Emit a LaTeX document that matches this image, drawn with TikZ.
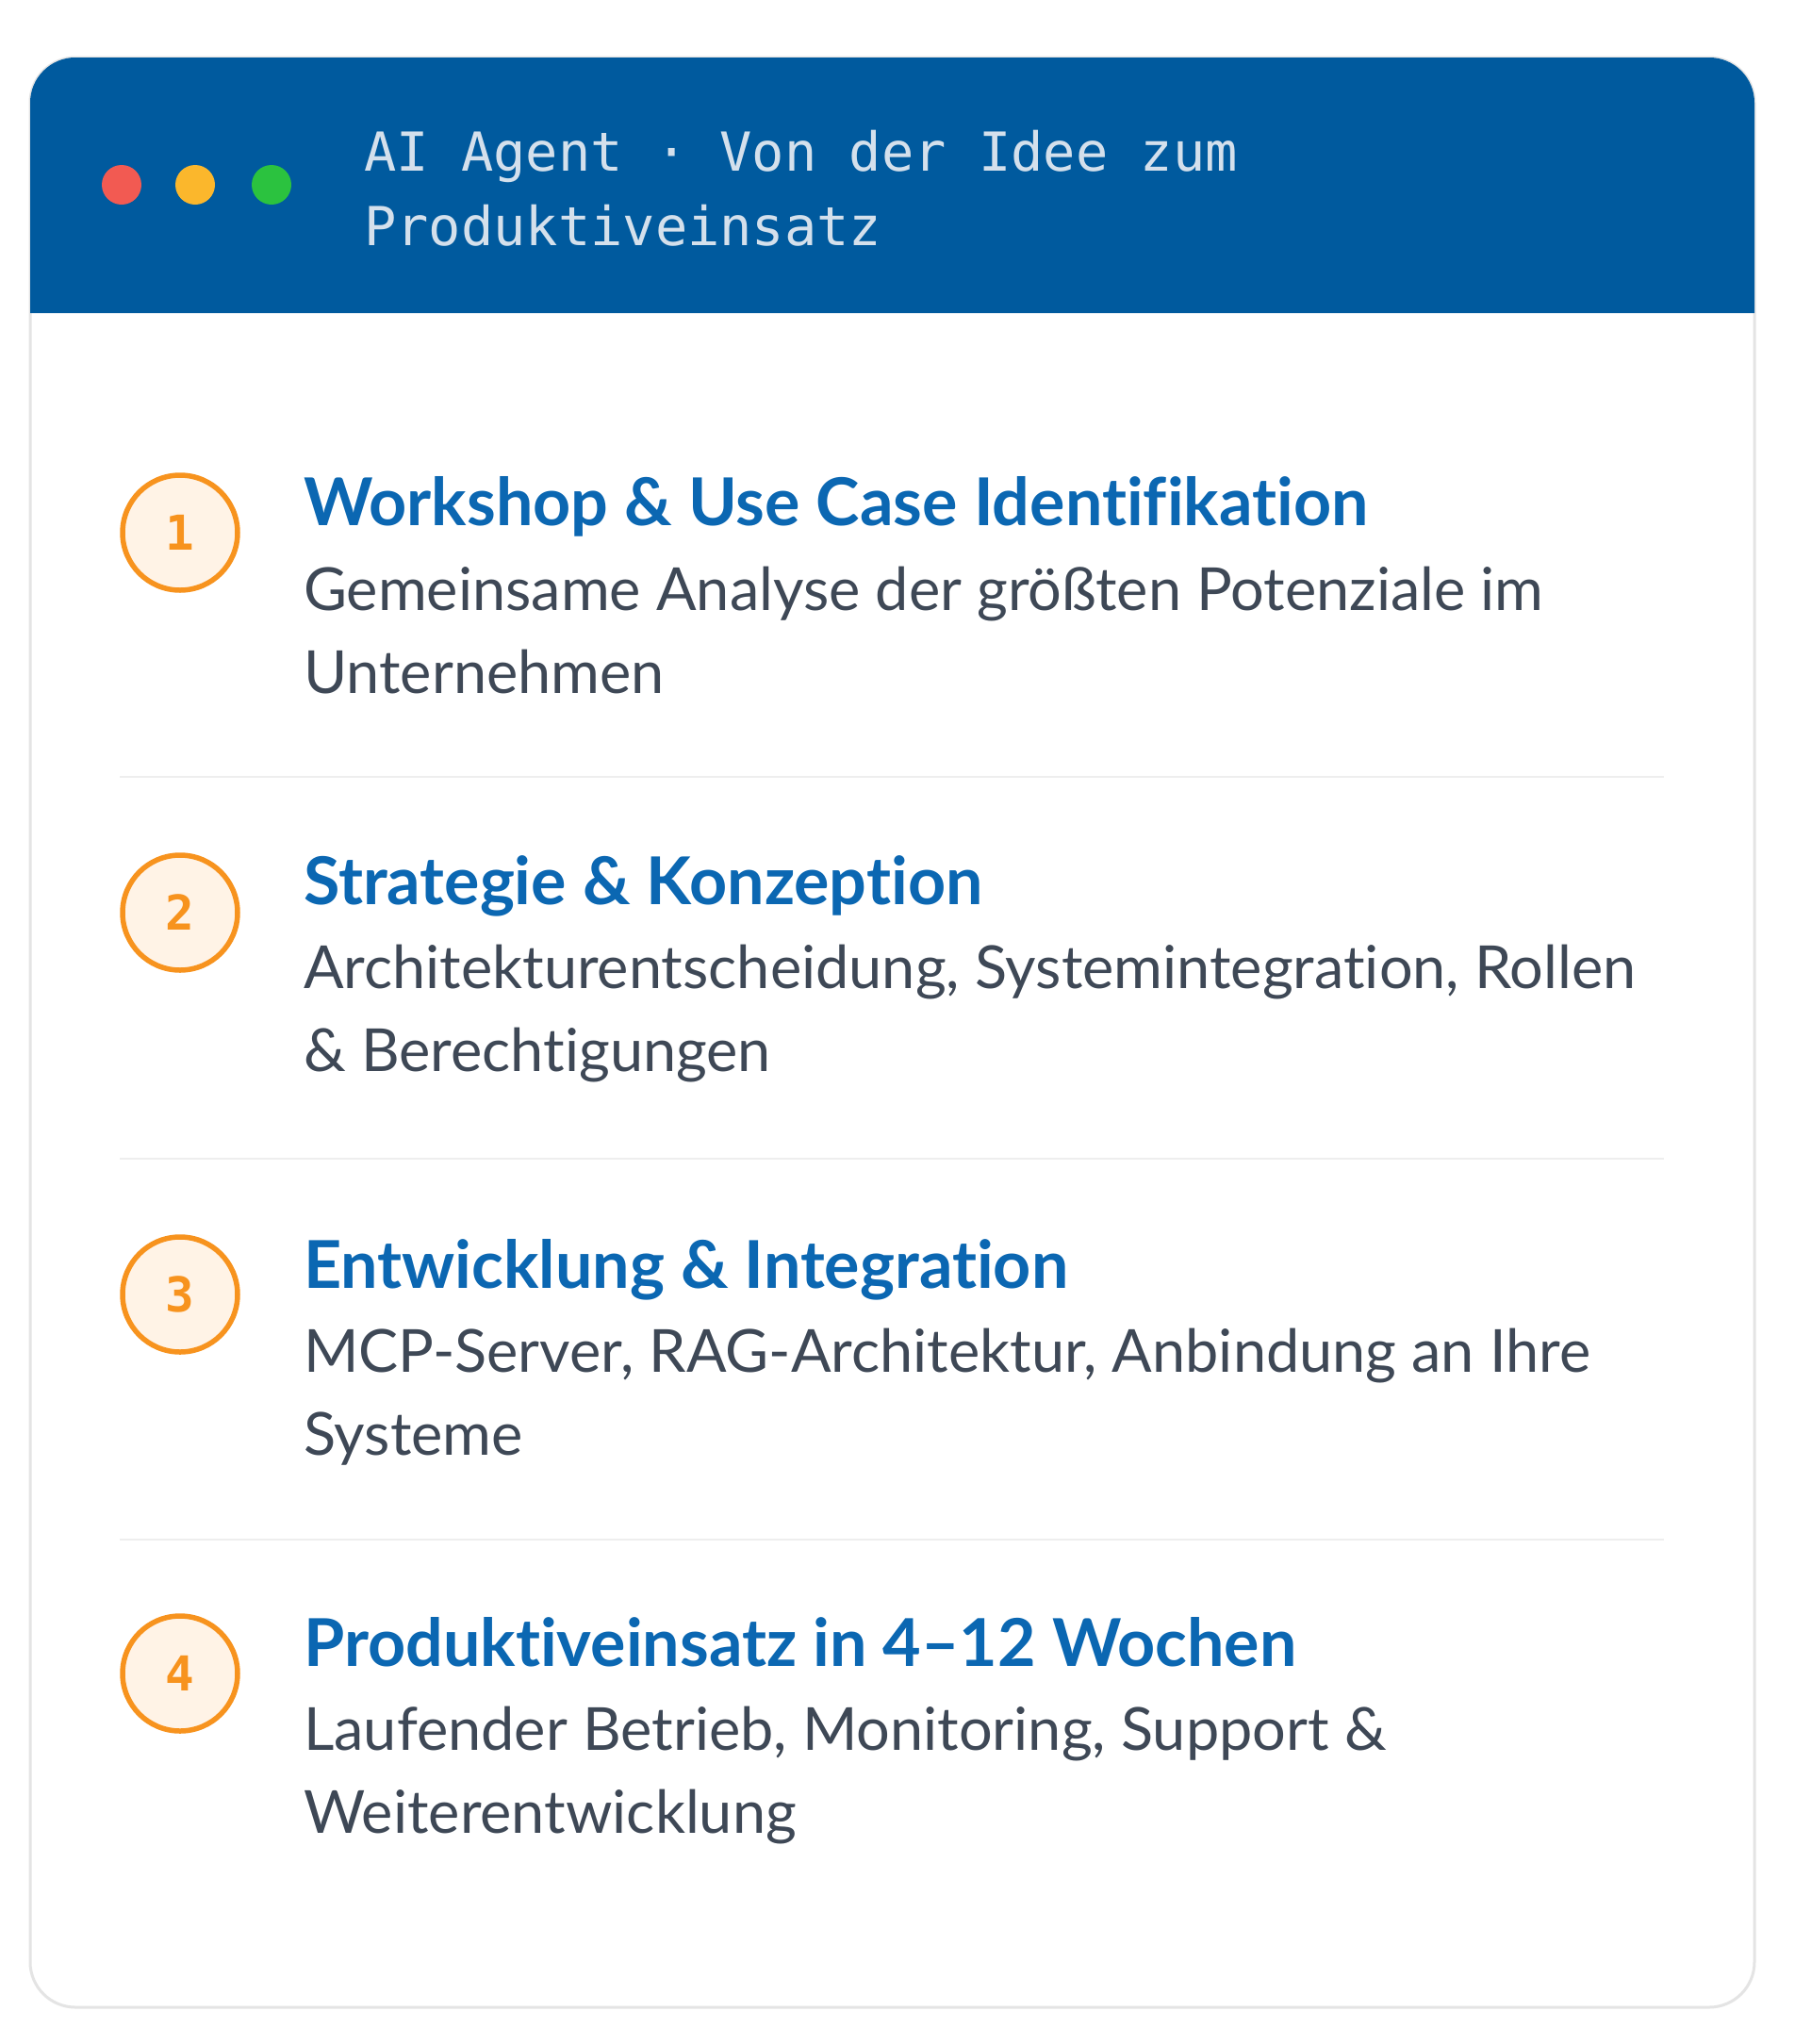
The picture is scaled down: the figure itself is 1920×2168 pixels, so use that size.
\documentclass[tikz,border=0pt]{standalone}
\usepackage{fontspec}
\setmainfont{Lato}[Ligatures=NoCommon]
\newfontfamily\monofont{DejaVu Sans Mono}
\definecolor{headblue}{HTML}{005A9E}
\definecolor{headtext}{HTML}{D4E0EC}
\definecolor{titleblue}{HTML}{0B67B2}
\definecolor{desctext}{HTML}{3E4856}
\definecolor{cardline}{HTML}{E4E4E4}
\definecolor{sepline}{HTML}{EEEEEE}
\definecolor{ringorange}{HTML}{F7931E}
\definecolor{ringfill}{HTML}{FFF3E6}
\definecolor{dotred}{HTML}{F25A52}
\definecolor{dotyellow}{HTML}{FBB72C}
\definecolor{dotgreen}{HTML}{2BC23F}
\tikzset{
  headfont/.style={font=\monofont\fontsize{57}{79}\selectfont, text=headtext, inner sep=0pt, anchor=base west},
  titlefont/.style={font=\fontsize{70}{80}\selectfont\bfseries, text=titleblue, inner sep=0pt, anchor=base west},
  descfont/.style={font=\fontsize{63}{88}\selectfont, text=desctext, inner sep=0pt, anchor=base west},
  ring/.style={circle, draw=ringorange, line width=5.5pt, fill=ringfill, minimum size=122pt, inner sep=0pt,
    font=\monofont\bfseries\fontsize{51}{52}\selectfont, text=ringorange},
  dot/.style={circle, minimum size=42pt, inner sep=0pt},
  sep/.style={draw=sepline, line width=2.5pt}
}
\begin{document}
\begin{tikzpicture}[x=1pt,y=-1pt]
\useasboundingbox (0,0) rectangle (1920,2168);
\fill[white] (0,0) rectangle (1920,2168);
% card
\draw[cardline, line width=3pt, fill=white, rounded corners=48pt] (32,61) rectangle (1861,2129);
\fill[headblue] (32,332) [rounded corners=48pt] -- (32,61) -- (1861,61) [sharp corners] -- (1861,332) -- cycle;
% dots
\node[dot, fill=dotred] (dr) at (129,196) {};
\node[dot, fill=dotyellow] (dy) at (207,196) {};
\node[dot, fill=dotgreen] (dg) at (288,196) {};
% header title
\node[headfont] (h1) at (386,181) {AI Agent · Von der Idee zum};
\node[headfont] (h2) at (386,260) {Produktiveinsatz};
% step 1
\node[ring] (c1) at (191,565) {1};
\node[titlefont] (t1) at (322,557) {Workshop \& Use Case Identifikation};
\node[descfont] (d1a) at (322,647) {Gemeinsame Analyse der größten Potenziale im};
\node[descfont] (d1b) at (322,735) {Unternehmen};
\coordinate (s1l) at (127,824); \coordinate (s1r) at (1765,824);
\draw[sep] (s1l) -- (s1r);
% step 2
\node[ring] (c2) at (191,968) {2};
\node[titlefont] (t2) at (322,959) {Strategie \& Konzeption};
\node[descfont] (d2a) at (322,1048) {Architekturentscheidung, Systemintegration, Rollen};
\node[descfont] (d2b) at (322,1136) {\& Berechtigungen};
\coordinate (s2l) at (127,1229); \coordinate (s2r) at (1765,1229);
\draw[sep] (s2l) -- (s2r);
% step 3
\node[ring] (c3) at (191,1373) {3};
\node[titlefont] (t3) at (322,1366) {Entwicklung \& Integration};
\node[descfont] (d3a) at (322,1455) {MCP-Server, RAG-Architektur, Anbindung an Ihre};
\node[descfont] (d3b) at (322,1543) {Systeme};
\coordinate (s3l) at (127,1633); \coordinate (s3r) at (1765,1633);
\draw[sep] (s3l) -- (s3r);
% step 4
\node[ring] (c4) at (191,1775) {4};
\node[titlefont] (t4) at (322,1767) {Produktiveinsatz in 4–12 Wochen};
\node[descfont] (d4a) at (322,1856) {Laufender Betrieb, Monitoring, Support \&};
\node[descfont] (d4b) at (322,1944) {Weiterentwicklung};
\end{tikzpicture}
\end{document}
